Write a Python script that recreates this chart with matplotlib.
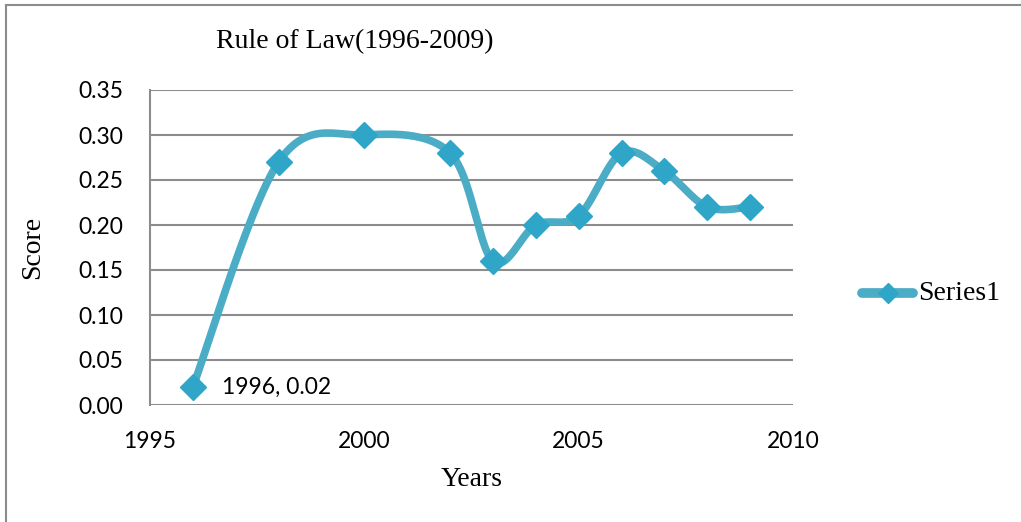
import numpy as np
import matplotlib
matplotlib.use("Agg")
import matplotlib.pyplot as plt
from matplotlib.lines import Line2D

# data
years = [1996, 1998, 2000, 2002, 2003, 2004, 2005, 2006, 2007, 2008, 2009]
scores = [0.02, 0.27, 0.30, 0.28, 0.16, 0.20, 0.21, 0.28, 0.26, 0.22, 0.22]
y_ticks = [0.00, 0.05, 0.10, 0.15, 0.20, 0.25, 0.30, 0.35]
x_ticks = [1995, 2000, 2005, 2010]

line_col = "#4BACC6"
mark_col = "#2FA6C8"
grid_col = "#8C8C8C"
serif = "Liberation Serif"
sans = "Lato"


def smooth(xs, ys, n=30):
    # excel-like smoothed line: catmull-rom bezier between the points
    xs = np.asarray(xs, float)
    ys = np.asarray(ys, float)
    px = np.concatenate([[xs[0]], xs, [xs[-1]]])
    py = np.concatenate([[ys[0]], ys, [ys[-1]]])
    ox, oy = [], []
    for i in range(1, len(px) - 2):
        p0 = np.array([px[i], py[i]])
        p3 = np.array([px[i + 1], py[i + 1]])
        c1 = p0 + (np.array([px[i + 1], py[i + 1]]) - np.array([px[i - 1], py[i - 1]])) / 6
        c2 = p3 - (np.array([px[i + 2], py[i + 2]]) - np.array([px[i], py[i]])) / 6
        t = np.linspace(0, 1, n)[:, None]
        b = (1 - t) ** 3 * p0 + 3 * (1 - t) ** 2 * t * c1 + 3 * (1 - t) * t ** 2 * c2 + t ** 3 * p3
        ox.extend(b[:, 0])
        oy.extend(b[:, 1])
    return np.array(ox), np.array(oy)


fig = plt.figure(figsize=(10.21, 5.22), dpi=100)
ax = fig.add_axes([150 / 1021, 117 / 522, 643 / 1021, 315 / 522])

sx, sy = smooth(years, scores)
ax.plot(sx, sy, color=line_col, lw=5.5, solid_capstyle="round", zorder=3)
ax.plot(years, scores, ls="none", marker="D", ms=13.5, color=mark_col, zorder=4)

ax.set_xlim(1995, 2010)
ax.set_ylim(0, 0.35)
ax.set_xticks(x_ticks)
ax.set_yticks(y_ticks)
ax.set_yticklabels([f"{v:.2f}" for v in y_ticks])
ax.tick_params(length=0, labelsize=16.5)
ax.tick_params(axis="y", pad=19)
ax.tick_params(axis="x", pad=19)
for lab in ax.get_xticklabels() + ax.get_yticklabels():
    lab.set_fontfamily(sans)

ax.grid(axis="y", color=grid_col, lw=1.5)
ax.set_axisbelow(True)
for s in ["top", "right", "bottom"]:
    ax.spines[s].set_visible(False)
ax.spines["left"].set_color(grid_col)
ax.spines["left"].set_linewidth(1.5)

ax.annotate(f"{years[0]}, {scores[0]:.2f}", (years[0], scores[0]),
            xytext=(21, 0), textcoords="offset points", va="center",
            fontsize=16.5, fontfamily=sans)

fig.text(355 / 1021, 1 - 42 / 522, "Rule of Law(1996-2009)", ha="center", va="center",
         fontsize=20, fontfamily=serif)
fig.text(33 / 1021, 1 - 247 / 522, "Score", rotation=90, ha="center", va="center",
         fontsize=20, fontfamily=serif)
fig.text(472 / 1021, 1 - 480 / 522, "Years", ha="center", va="center",
         fontsize=20, fontfamily=serif)

# legend
fig.add_artist(Line2D([862 / 1021, 913 / 1021], [1 - 293 / 522] * 2, color=line_col, lw=7,
                      solid_capstyle="round"))
fig.add_artist(Line2D([888 / 1021], [1 - 293 / 522], marker="D", ms=10, color=mark_col, ls="none"))
fig.text(918 / 1021, 1 - 293 / 522, "Series1", ha="left", va="center", fontsize=20, fontfamily=serif)

# outer chart frame
fig.add_artist(Line2D([6 / 1021, 6 / 1021], [0, 1 - 5 / 522], color=grid_col, lw=1.5))
fig.add_artist(Line2D([6 / 1021, 1], [1 - 5 / 522, 1 - 5 / 522], color=grid_col, lw=1.5))

fig.savefig("out.png", dpi=100)
